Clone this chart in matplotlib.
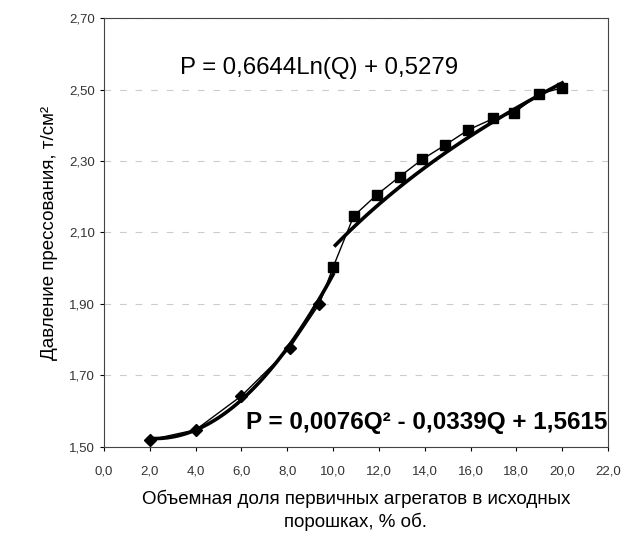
import numpy as np
import matplotlib.pyplot as plt
from matplotlib.ticker import FuncFormatter

# data
q_low = [2.0, 4.0, 6.0, 8.1, 9.4]
p_low = [1.52, 1.548, 1.643, 1.776, 1.90]
q_high = [10.0, 10.9, 11.9, 12.9, 13.9, 14.9, 15.9, 17.0, 17.9, 19.0, 20.0]
p_high = [2.003, 2.146, 2.205, 2.256, 2.305, 2.345, 2.387, 2.419, 2.435, 2.487, 2.505]

# trend line coefficients as printed on the chart
poly_coef = [0.0076, -0.0339, 1.5615]
log_coef = [0.6644, 0.5279]

plt.rcParams['font.family'] = ['Liberation Sans', 'DejaVu Sans']

fig = plt.figure(figsize=(6.25, 5.39), dpi=100)
ax = fig.add_axes([0.1664, 0.1707, 0.8064, 0.7959])

# thin line through all points
q_all = q_low + q_high
p_all = p_low + p_high
ax.plot(q_all, p_all, color='black', lw=1.0, zorder=3)
ax.plot(q_low, p_low, 'D', color='black', ms=6, zorder=4)
ax.plot(q_high, p_high, 's', color='black', ms=6.5, zorder=4)

# trend lines
qa = np.linspace(2, 10, 100)
ax.plot(qa, np.polyval(poly_coef, qa), color='black', lw=2.6, zorder=2)
qb = np.linspace(10.1, 20, 100)
ax.plot(qb, log_coef[0] * np.log(qb) + log_coef[1], color='black', lw=2.6, zorder=2)

ax.set_xlim(0, 22)
ax.set_ylim(1.5, 2.7)
ax.set_xticks(np.arange(0, 22.1, 2))
ax.set_yticks(np.arange(1.5, 2.71, 0.2))
ax.xaxis.set_major_formatter(FuncFormatter(lambda v, p: f'{v:.1f}'.replace('.', ',')))
ax.yaxis.set_major_formatter(FuncFormatter(lambda v, p: f'{v:.2f}'.replace('.', ',')))
ax.tick_params(labelsize=9.5, labelcolor='#333333', length=3, width=0.8)
ax.tick_params(axis='x', pad=10)
for s in ax.spines.values():
    s.set_linewidth(0.8)
    s.set_color('#444444')
ax.grid(axis='y', color='#cccccc', ls=(0, (6, 8)), lw=0.8)

ax.text(0.15, 0.883, 'P = 0,6644Ln(Q) + 0,5279', transform=ax.transAxes,
        fontsize=17.3, va='center')
ax.text(0.998, 0.058, 'P = 0,0076Q² - 0,0339Q + 1,5615', transform=ax.transAxes,
        fontsize=17.5, fontweight='bold', ha='right', va='center')

ax.set_ylabel('Давление прессования, т/см²', fontsize=13.5, labelpad=8)
ax.set_xlabel('Объемная доля первичных агрегатов в исходных\nпорошках, % об.',
              fontsize=13.5, labelpad=9, linespacing=1.35)

fig.savefig('out.png', dpi=100)
